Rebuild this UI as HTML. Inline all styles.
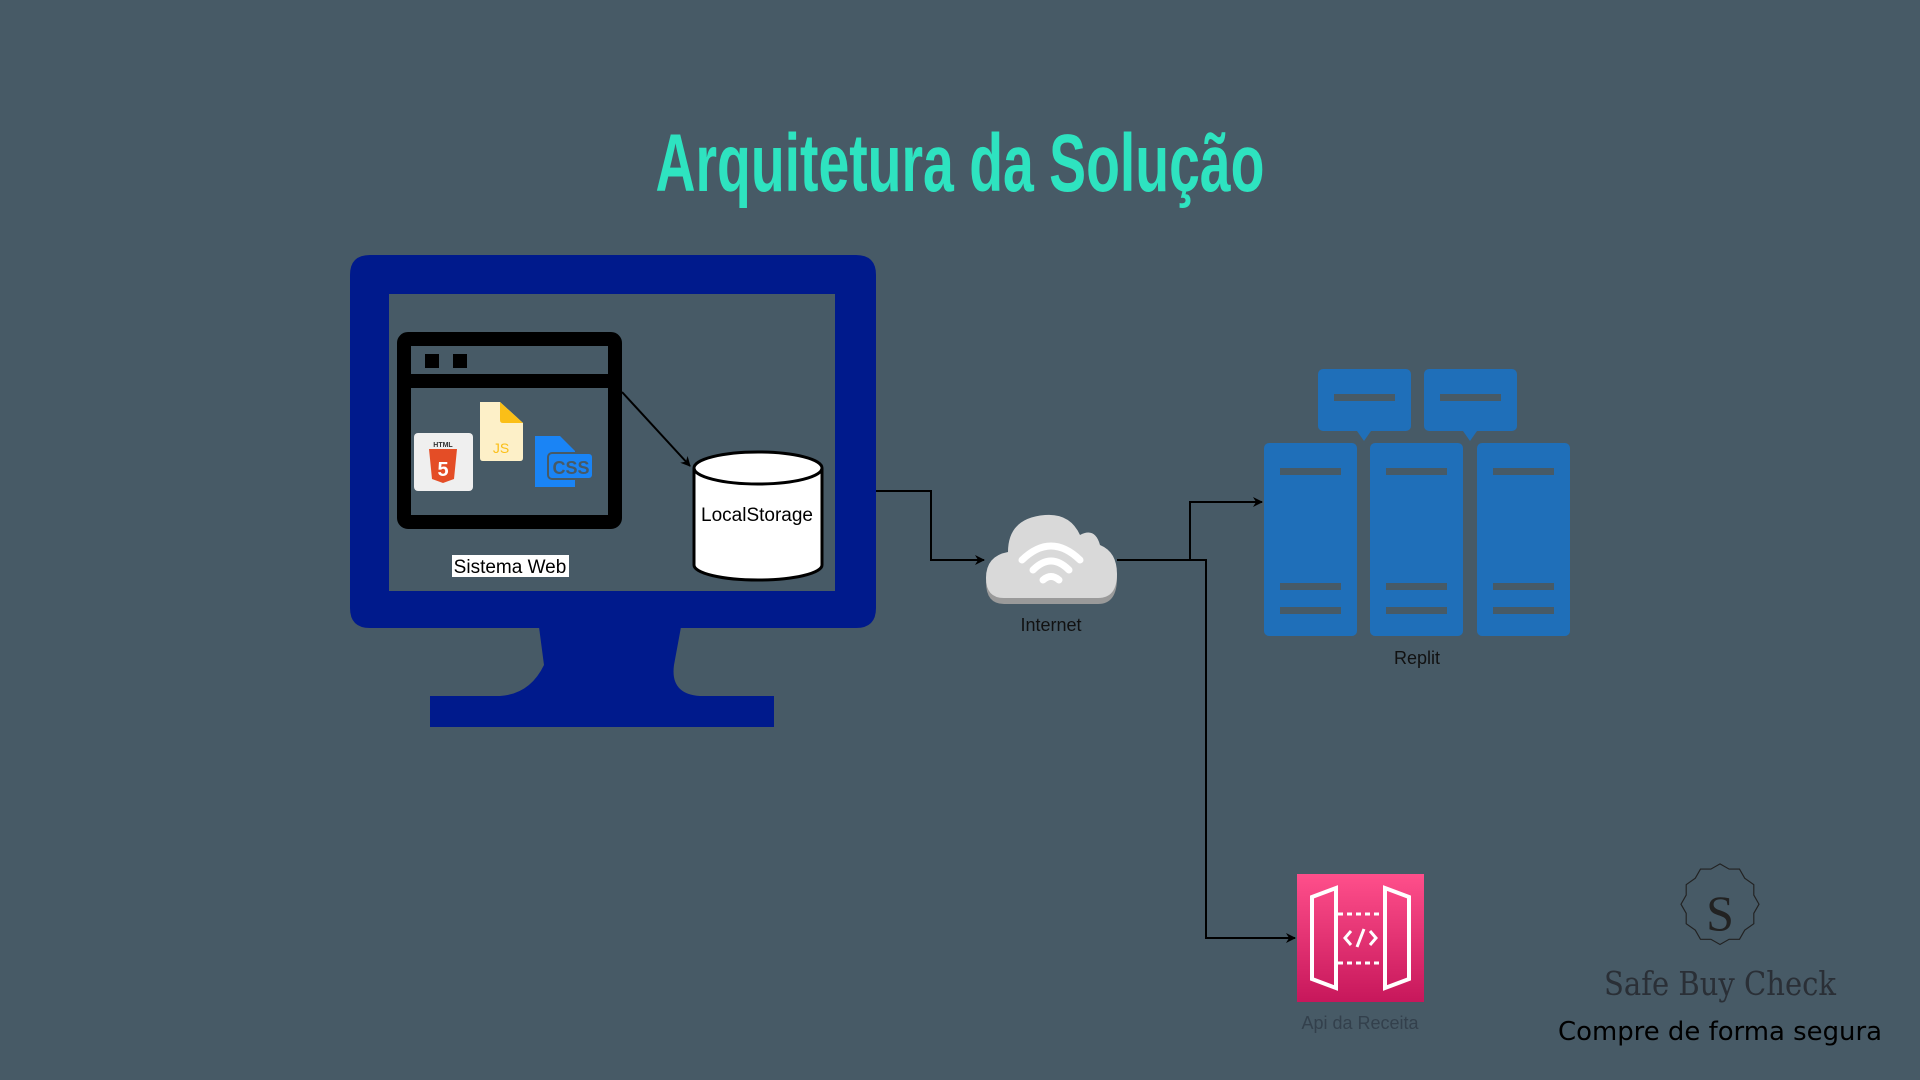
<!DOCTYPE html>
<html><head><meta charset="utf-8"><style>
html,body{margin:0;padding:0;}
body{width:1920px;height:1080px;background:#475a66;overflow:hidden;position:relative;font-family:"Liberation Sans",sans-serif;}
</style></head><body>
<svg width="1920" height="1080" viewBox="0 0 1920 1080" xmlns="http://www.w3.org/2000/svg" style="position:absolute;left:0;top:0">
<defs>
<marker id="ah" markerWidth="10" markerHeight="10" refX="9" refY="5" orient="auto" markerUnits="userSpaceOnUse"><path d="M0,0 L10,5 L0,10 L3,5 Z" fill="#000"/></marker>
<linearGradient id="pk" x1="0" y1="0" x2="0" y2="1"><stop offset="0" stop-color="#ff4f8b"/><stop offset="1" stop-color="#c7175b"/></linearGradient>
</defs>
<text x="960" y="191" text-anchor="middle" textLength="609" lengthAdjust="spacingAndGlyphs" font-family="Liberation Sans Narrow, Liberation Sans, sans-serif" font-weight="bold" font-size="82" fill="#2ee3c0">Arquitetura da Solução</text>

<!-- monitor -->
<path d="M370,255 H856 Q876,255 876,275 V608 Q876,628 856,628 H370 Q350,628 350,608 V275 Q350,255 370,255 Z M389,294 V591 H835 V294 Z" fill="#001a8c" fill-rule="evenodd"/>
<path d="M539,627 H681 L674,665 Q670,694 700,696 L774,696 V727 H430 V696 L500,696 Q530,694 544,665 Z" fill="#001a8c"/>

<!-- browser window -->
<rect x="404" y="339" width="211" height="183" rx="4" fill="none" stroke="#000" stroke-width="14"/>
<rect x="404" y="374" width="211" height="14" fill="#000"/>
<rect x="425" y="354" width="14" height="14" fill="#000"/>
<rect x="453" y="354" width="14" height="14" fill="#000"/>
<!-- html5 -->
<rect x="414" y="433" width="59" height="58" rx="4" fill="#efefef"/>
<text x="443" y="447" text-anchor="middle" font-size="7" font-weight="bold" fill="#333">HTML</text>
<path d="M429,449 H457 L454,479 L443,483 L432,479 Z" fill="#e44d26"/>
<text x="443" y="476" text-anchor="middle" font-size="20" font-weight="bold" fill="#fff">5</text>
<!-- js -->
<path d="M480,402 H500 L523,423 V458 Q523,461 520,461 H483 Q480,461 480,458 Z" fill="#fdf0c8"/>
<path d="M500,402 L523,423 H503 Q500,423 500,420 Z" fill="#fbbf17"/>
<text x="501" y="453" text-anchor="middle" font-size="14" fill="#fbbf17">JS</text>
<!-- css -->
<path d="M535,436 H560 L575,451 V487 H535 Z" fill="#1a84f5"/>
<rect x="548" y="453" width="45" height="26" rx="4" fill="#1a84f5" stroke="#475a66" stroke-width="2"/>
<text x="571" y="474" text-anchor="middle" font-size="18" fill="#475a66" font-weight="bold">CSS</text>

<rect x="452" y="555" width="117" height="22" fill="#fff"/>
<text x="510" y="573" text-anchor="middle" font-size="19" fill="#000">Sistema Web</text>

<line x1="622" y1="392" x2="690" y2="466" stroke="#000" stroke-width="2" marker-end="url(#ah)"/>
<!-- cylinder -->
<path d="M694,468 V565 A64,15 0 0 0 822,565 V468" fill="#fff" stroke="#000" stroke-width="3"/>
<ellipse cx="758" cy="468" rx="64" ry="16" fill="#fff" stroke="#000" stroke-width="3"/>
<text x="757" y="521" text-anchor="middle" font-size="19" fill="#000">LocalStorage</text>

<!-- connectors -->
<polyline points="876,491 931,491 931,560 984,560" fill="none" stroke="#000" stroke-width="2" marker-end="url(#ah)"/>
<polyline points="1117,560 1190,560 1190,502 1262,502" fill="none" stroke="#000" stroke-width="2" marker-end="url(#ah)"/>
<polyline points="1190,560 1206,560 1206,938 1295,938" fill="none" stroke="#000" stroke-width="2" marker-end="url(#ah)"/>

<!-- cloud -->
<path d="M1004,604 Q986,604 986,582 Q986,560 1008,556 Q1008,520 1045,517 Q1070,515 1080,538 Q1095,530 1100,548 Q1117,556 1117,578 Q1117,604 1098,604 Z" fill="#9a9a9a"/>
<path d="M1004,598 Q986,598 986,578 Q986,556 1008,552 Q1008,518 1045,515 Q1070,513 1080,535 Q1095,527 1100,545 Q1117,552 1117,574 Q1117,598 1098,598 Z" fill="#d9d9d9"/>
<path d="M1022,560 Q1051,532 1080,560" fill="none" stroke="#fff" stroke-width="7" stroke-linecap="round"/>
<path d="M1033,570 Q1051,552 1069,570" fill="none" stroke="#fff" stroke-width="7" stroke-linecap="round"/>
<path d="M1043,580 Q1051,573 1059,580" fill="none" stroke="#fff" stroke-width="7" stroke-linecap="round"/>
<text x="1051" y="631" text-anchor="middle" font-size="18" fill="#111">Internet</text>

<!-- servers -->
<g fill="#1f6fb9">
<rect x="1318" y="369" width="93" height="62" rx="5"/>
<rect x="1424" y="369" width="93" height="62" rx="5"/>
<path d="M1357,431 L1364,441 L1371,431 Z M1463,431 L1470,441 L1477,431 Z"/>
<rect x="1264" y="443" width="93" height="193" rx="5"/>
<rect x="1370" y="443" width="93" height="193" rx="5"/>
<rect x="1477" y="443" width="93" height="193" rx="5"/>
</g>
<g fill="#475a66">
<rect x="1334" y="394" width="61" height="7"/><rect x="1440" y="394" width="61" height="7"/>
<rect x="1280" y="468" width="61" height="7"/><rect x="1386" y="468" width="61" height="7"/><rect x="1493" y="468" width="61" height="7"/>
<rect x="1280" y="583" width="61" height="7"/><rect x="1386" y="583" width="61" height="7"/><rect x="1493" y="583" width="61" height="7"/>
<rect x="1280" y="607" width="61" height="7"/><rect x="1386" y="607" width="61" height="7"/><rect x="1493" y="607" width="61" height="7"/>
</g>
<text x="1417" y="664" text-anchor="middle" font-size="18" fill="#111">Replit</text>

<!-- api -->
<rect x="1297" y="874" width="127" height="128" fill="url(#pk)"/>
<g fill="none" stroke="#fff" stroke-width="4">
<path d="M1312,897 L1336,888 V988 L1312,979 Z"/>
<path d="M1409,897 L1385,888 V988 L1409,979 Z"/>
<path d="M1338,914 H1383 M1338,963 H1383" stroke-dasharray="5,4" stroke-width="3"/>
<path d="M1351,931 L1345,938 L1351,945 M1370,931 L1376,938 L1370,945 M1357,947 L1364,929" stroke-width="3"/>
</g>
<text x="1360" y="1029" text-anchor="middle" font-size="18" fill="#33404c">Api da Receita</text>

<!-- logo -->
<g transform="translate(1720,912) scale(1.3) translate(-1720,-912)">
<path d="M1720,875 l7,4 l8,0 l4,7 l7,5 l0,8 l4,7 l-4,7 l0,8 l-7,5 l-4,7 l-8,0 l-7,4 l-7,-4 l-8,0 l-4,-7 l-7,-5 l0,-8 l-4,-7 l4,-7 l0,-8 l7,-5 l4,-7 l8,0 Z" fill="none" stroke="#222" stroke-width="0.9"/>
</g>
<text x="1720" y="930" text-anchor="middle" font-family="Liberation Serif, serif" font-size="50" font-weight="normal" fill="#222" style="font-weight:100">S</text>
<text x="1720" y="995" text-anchor="middle" font-family="DejaVu Serif, Liberation Serif, serif" font-size="33" font-weight="200" fill="#2a2f36" textLength="232" lengthAdjust="spacingAndGlyphs">Safe Buy Check</text>
<text x="1720" y="1040" text-anchor="middle" font-family="DejaVu Sans, sans-serif" font-size="26" fill="#000" textLength="324" lengthAdjust="spacingAndGlyphs">Compre de forma segura</text>
</svg>
</body></html>
